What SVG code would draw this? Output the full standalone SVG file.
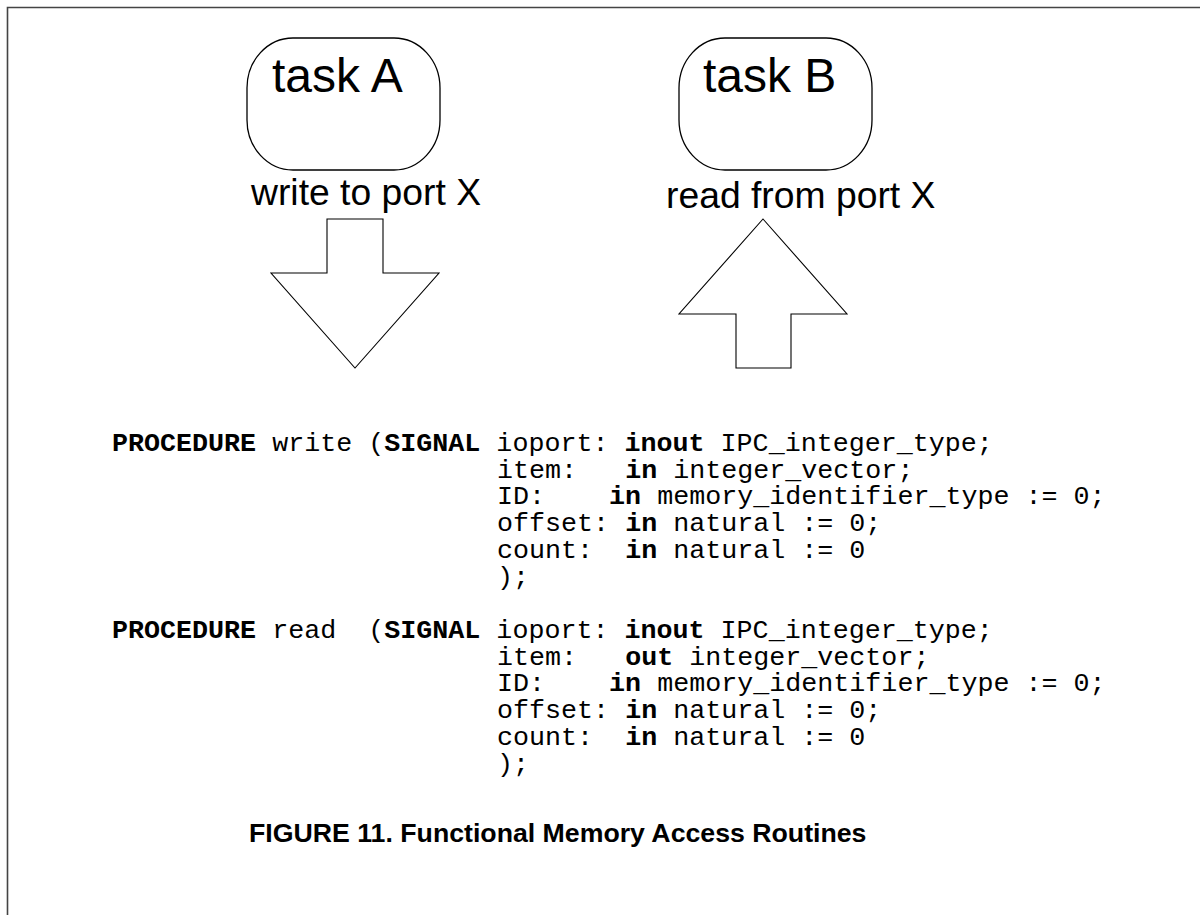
<svg xmlns="http://www.w3.org/2000/svg" width="1200" height="915" viewBox="0 0 1200 915" xml:space="preserve">
  <style>
    .frame { fill: none; stroke: #444444; stroke-width: 1.6; }
    .task { fill: #ffffff; stroke: #000000; stroke-width: 1.3; }
    .arrow { fill: #ffffff; stroke: #000000; stroke-width: 1.1; stroke-linejoin: miter; }
    .big { font-family: "Liberation Sans", Arial, sans-serif; font-size: 48px; fill: #000000; }
    .label { font-family: "Liberation Sans", Arial, sans-serif; font-size: 37.3px; fill: #000000; }
    .code text { font-family: "Liberation Mono", "Courier New", monospace; font-size: 26.7px; fill: #000000; white-space: pre; }
    .kw { font-weight: bold; }
    .caption { font-family: "Liberation Sans", Arial, sans-serif; font-size: 26.7px; font-weight: bold; fill: #000000; }
  </style>

  <rect x="0" y="0" width="1200" height="915" fill="#ffffff"/>

  <!-- page frame, open to the right and bottom -->
  <path class="frame" d="M7.5,915 V7.5 H1200"/>

  <!-- task nodes -->
  <g id="taskA">
    <rect class="task" x="247" y="38" width="193" height="132" rx="46" ry="50"/>
    <text class="big" x="272" y="92">task A</text>
  </g>
  <g id="taskB">
    <rect class="task" x="679" y="38" width="193" height="132" rx="46" ry="50"/>
    <text class="big" x="703" y="92">task B</text>
  </g>

  <!-- block arrows with their port labels -->
  <g id="connectors">
    <g id="write-arrow">
      <text class="label" x="251" y="205">write to port X</text>
      <polygon class="arrow" points="327,219 383,219 383,273 439,273 355,368 271,273 327,273"/>
    </g>
    <g id="read-arrow">
      <text class="label" x="666" y="208">read from port X</text>
      <polygon class="arrow" points="763,219 847,314 791,314 791,368 736,368 736,314 679,314"/>
    </g>
  </g>

  <!-- procedure declarations -->
  <g id="write-proc" class="code">
    <text x="112" y="451"><tspan class="kw">PROCEDURE</tspan> write (<tspan class="kw">SIGNAL</tspan> ioport: <tspan class="kw">inout</tspan> IPC_integer_type;</text>
    <text x="497" y="477.7">item:   <tspan class="kw">in</tspan> integer_vector;</text>
    <text x="497" y="504.4">ID:    <tspan class="kw">in</tspan> memory_identifier_type := 0;</text>
    <text x="497" y="531.1">offset: <tspan class="kw">in</tspan> natural := 0;</text>
    <text x="497" y="557.8">count:  <tspan class="kw">in</tspan> natural := 0</text>
    <text x="497" y="584.5">);</text>
  </g>
  <g id="read-proc" class="code">
    <text x="112" y="638"><tspan class="kw">PROCEDURE</tspan> read  (<tspan class="kw">SIGNAL</tspan> ioport: <tspan class="kw">inout</tspan> IPC_integer_type;</text>
    <text x="497" y="664.7">item:   <tspan class="kw">out</tspan> integer_vector;</text>
    <text x="497" y="691.4">ID:    <tspan class="kw">in</tspan> memory_identifier_type := 0;</text>
    <text x="497" y="718.1">offset: <tspan class="kw">in</tspan> natural := 0;</text>
    <text x="497" y="744.8">count:  <tspan class="kw">in</tspan> natural := 0</text>
    <text x="497" y="771.5">);</text>
  </g>

  <text class="caption" x="249" y="842">FIGURE 11. Functional Memory Access Routines</text>
</svg>
